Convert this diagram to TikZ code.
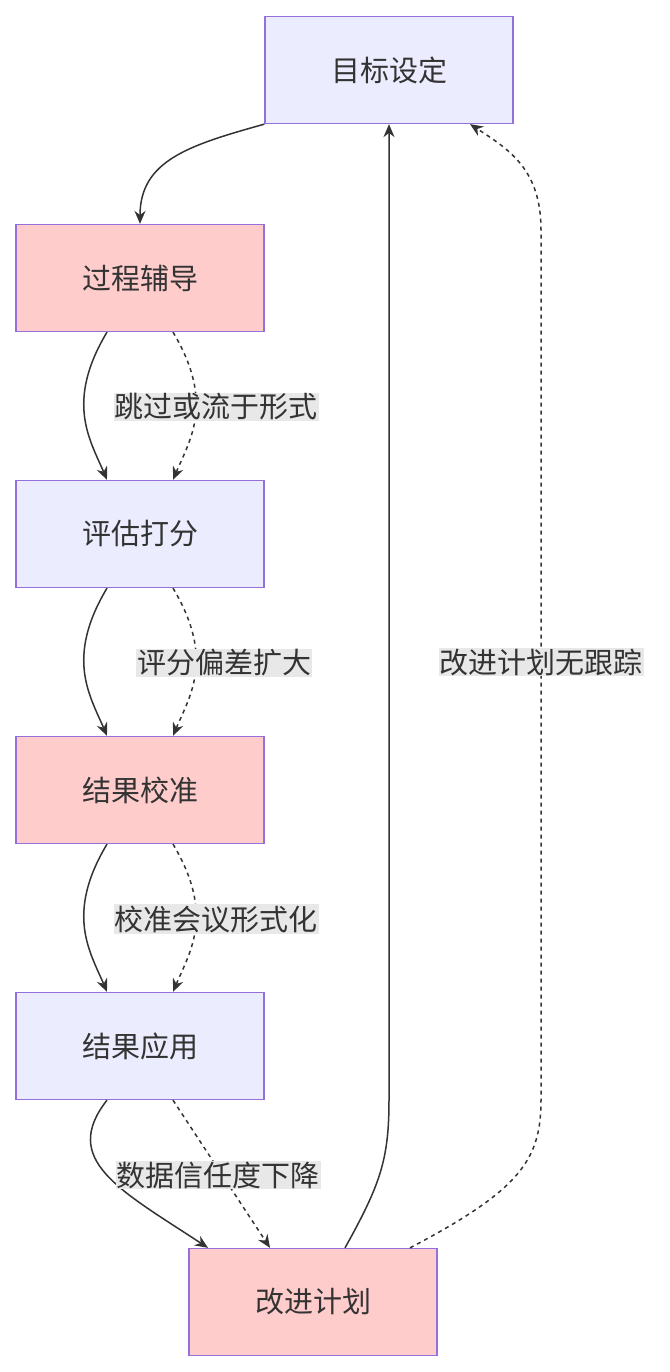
\documentclass[tikz,border=0pt]{standalone}
\usepackage{fontspec}
\newfontfamily\cjk{Noto Sans CJK SC}
\usetikzlibrary{arrows.meta,calc}
\definecolor{bluef}{HTML}{ECECFF}
\definecolor{pinkf}{HTML}{FFCCCC}
\definecolor{bord}{HTML}{9370DB}
\definecolor{ink}{HTML}{333333}
\definecolor{lbl}{HTML}{E8E8E8}
\tikzset{
  box/.style={draw=bord,line width=1.3pt,minimum width=248pt,minimum height=107pt,inner sep=0pt,font=\cjk\fontsize{29}{34}\selectfont,text=ink},
  bbox/.style={box,fill=bluef},
  pbox/.style={box,fill=pinkf},
  edge/.style={draw=ink,line width=1.5pt,-{Stealth[length=13pt,width=11pt]}},
  dedge/.style={edge,dashed,dash pattern=on 4pt off 4pt},
  lab/.style={fill=lbl,inner sep=1pt,font=\cjk\fontsize{29}{34}\selectfont,text=ink}
}
\begin{document}
\begin{tikzpicture}[x=1pt,y=-1pt]
\useasboundingbox (0,0) rectangle (669,1372);
\node[bbox] (a) at (389,70) {目标设定};
\node[pbox] (b) at (140,278) {过程辅导};
\node[bbox] (c) at (140,534) {评估打分};
\node[pbox] (d) at (140,790) {结果校准};
\node[bbox] (e) at (140,1046) {结果应用};
\node[pbox] (f) at (313,1302) {改进计划};
% a -> b
\draw[edge] (a.south west) .. controls (190,145) and (140,160) .. (b.north);
% chain
\foreach \s/\t in {b/c,c/d,d/e}{
  \draw[edge] ($(\s.south)+(-33,0)$) .. controls ($(\s.south)+(-75,70)$) and ($(\t.north)+(-50,-40)$) .. ($(\t.north)+(-33,0)$);
  \draw[dedge] ($(\s.south)+(33,0)$) .. controls ($(\s.south)+(75,70)$) and ($(\t.north)+(50,-40)$) .. ($(\t.north)+(33,0)$);
}
\node[lab] at (216,407) {跳过或流于形式};
\node[lab] at (224,663) {评分偏差扩大};
\node[lab] at (216,919) {校准会议形式化};
% e -> f
\draw[edge] ($(e.south)+(-33,0)$) .. controls (60,1160) and (120,1190) .. ($(f.north)+(-105,0)$);
\draw[dedge] ($(e.south)+(33,0)$) -- ($(f.north)+(-43,0)$);
\node[lab] at (218,1175) {数据信任度下降};
% f -> a
\coordinate (fs) at ($(f.north)+(32,0)$);
\draw[edge] (fs) .. controls (380,1185) and (389,1160) .. (389,1100) -- (a.south);
\coordinate (fd) at ($(f.north)+(97,0)$);
\draw[dedge] (fd) .. controls (520,1190) and (541,1160) .. (541,1100) -- (541,230) .. controls (541,170) and (510,150) .. ($(a.south)+(81,0)$);
\node[lab] at (541,662) {改进计划无跟踪};
\end{tikzpicture}
\end{document}
